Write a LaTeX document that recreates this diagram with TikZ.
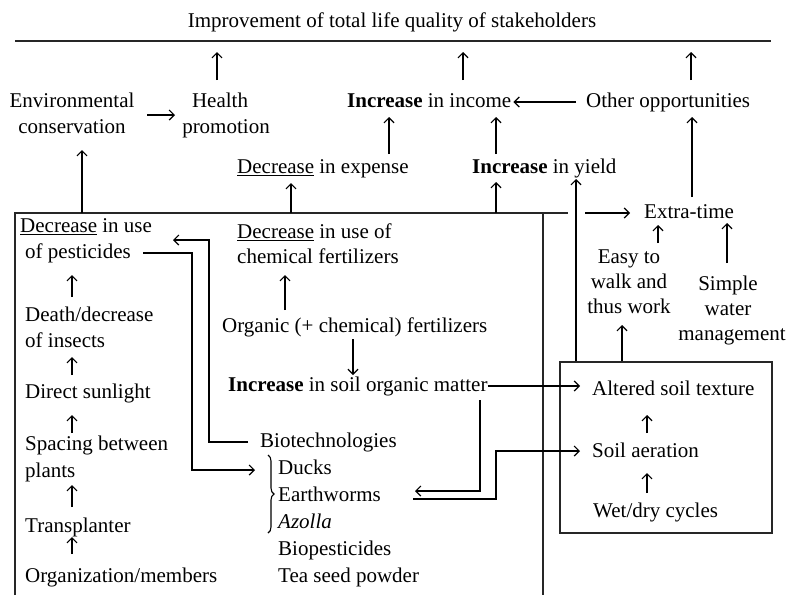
\documentclass[tikz,border=0pt]{standalone}
\usepackage{fontspec}
\setmainfont{Liberation Serif}
\usetikzlibrary{arrows.meta,calc,decorations.pathreplacing}
\begin{document}
\begin{tikzpicture}[x=1pt,y=-1pt,
  lbl/.style={inner sep=0pt, text height=14.7pt, text depth=4.2pt, font=\fontsize{21}{25}\selectfont},
  lw/.style={lbl, anchor=west},
  ln/.style={line width=1.3pt, black!85},
  arr/.style={line width=1.2pt, -{Straight Barb[length=5pt,width=10pt]}},
]
\useasboundingbox (0,0) rectangle (789,595);

% ---- top
\node[lbl] (title) at (392,22) {Improvement of total life quality of stakeholders};
\coordinate (rl) at (15,41);
\coordinate (rr) at (771,41);
\draw[ln] (rl) -- (rr);

\node[lbl] (env1) at (72,102) {Environmental};
\node[lbl] (env2) at (72,128) {conservation};
\node[lbl] (hp1) at (220,102) {Health};
\node[lbl] (hp2) at (226,128) {promotion};
\node[lw] (inc) at (347,102) {\textbf{Increase} in income};
\node[lw] (opp) at (586,102) {Other opportunities};
\node[lw] (dexp) at (237,168) {\underline{Decrease} in expense};
\node[lw] (yld) at (472,168) {\textbf{Increase} in yield};
\node[lw] (xt) at (644,213) {Extra-time};

\node[lbl] (ez1) at (629,258) {Easy to};
\node[lbl] (ez2) at (629,283) {walk and};
\node[lbl] (ez3) at (629,308) {thus work};
\node[lbl] (sm1) at (728,285) {Simple};
\node[lbl] (sm2) at (728,310) {water};
\node[lbl] (sm3) at (732,335) {management};

% ---- left box texts
\node[lw] (pe1) at (20,227) {\underline{Decrease} in use};
\node[lw] (pe2) at (25,253) {of pesticides};
\node[lw] (de1) at (25,316) {Death/decrease};
\node[lw] (de2) at (25,342) {of insects};
\node[lw] (sun) at (25,393) {Direct sunlight};
\node[lw] (sp1) at (25,445) {Spacing between};
\node[lw] (sp2) at (25,472) {plants};
\node[lw] (tra) at (25,527) {Transplanter};
\node[lw] (org) at (25,577) {Organization/members};

\node[lw] (cf1) at (237,233) {\underline{Decrease} in use of};
\node[lw] (cf2) at (237,258) {chemical fertilizers};
\node[lw] (ocf) at (222,327) {Organic (+ chemical) fertilizers};
\node[lw] (som) at (228,386) {\textbf{Increase} in soil organic matter};
\node[lw] (bio) at (260,442) {Biotechnologies};
\node[lw] (duck) at (278,469) {Ducks};
\node[lw] (worm) at (278,496) {Earthworms};
\node[lw] (azo) at (278,523) {\textit{Azolla}};
\node[lw] (bp) at (278,550) {Biopesticides};
\node[lw] (tea) at (278,577) {Tea seed powder};

% ---- right box
\node[draw, line width=1.3pt, black!85, inner sep=0pt, minimum width=212pt, minimum height=171pt] (rbox) at (666,447.5) {};
\node[lw] (alt) at (592,390) {Altered soil texture};
\node[lw] (aer) at (592,452) {Soil aeration};
\node[lw] (wet) at (593,512) {Wet/dry cycles};

% ---- left box frame
\coordinate (lbtl) at (15,213);
\coordinate (lbbl) at (15,595);
\coordinate (lbtr) at (543,213);
\coordinate (lbbr) at (543,595);
\draw[ln] (lbbl) -- (lbtl) -- ($(lbtl)+(553,0)$);
\draw[ln] (lbtr) -- (lbbr);

% brace
\draw[line width=1.1pt, decorate, decoration={brace, amplitude=6pt}] ($(duck.west)+(-10,-14)$) -- ($(azo.west)+(-10,10)$);

% ---- connectors top
\draw[arr] ($(env1.center)+(75,13)$) -- ($(hp1.center)+(-45,13)$);
\draw[arr] ($(hp1.center)+(-3,-22)$) -- ($(hp1.center)+(-3,-50)$);
\draw[arr] ($(inc.west)+(116,-22)$) -- ($(inc.west)+(116,-50)$);
\draw[arr] ($(opp.west)+(105,-22)$) -- ($(opp.west)+(105,-50)$);
\draw[arr] ($(opp.west)+(-10,0)$) -- ($(inc.east)+(2,0)$);
\draw[arr] ($(dexp.west)+(152,-14)$) -- ($(inc.west)+(42,15)$);
\draw[arr] ($(yld.west)+(24,-14)$) -- ($(inc.west)+(149,15)$);
\draw[arr] ($(xt.west)+(48,-16)$) -- ($(opp.west)+(106,15)$);

% from left box top
\draw[arr] ($(lbtl)+(67,0)$) -- ($(env2.center)+(10,22)$);
\draw[arr] ($(lbtl)+(276,0)$) -- ($(dexp.west)+(54,15)$);
\draw[arr] ($(lbtl)+(481,0)$) -- ($(yld.west)+(24,14)$);
\draw[arr] ($(lbtl)+(570,0)$) -- ($(xt.west)+(-14,0)$);

% from right box
\draw[arr] ($(rbox.north)+(-90,0)$) -- ($(yld.west)+(104,11)$);
\draw[arr] ($(rbox.north)+(-44,0)$) -- ($(ez3.center)+(-7,17)$);
\draw[arr] ($(ez1.center)+(29,-15)$) -- ($(xt.west)+(14,12)$);
\draw[arr] ($(sm1.center)+(-1,-22)$) -- ($(xt.west)+(83,10)$);
\draw[arr] ($(aer.west)+(55,-19)$) -- ($(alt.west)+(55,25)$);
\draw[arr] ($(wet.west)+(54,-19)$) -- ($(aer.west)+(55,21)$);

% middle column
\draw[arr] ($(ocf.west)+(63,-17)$) -- ($(cf2.west)+(48,17)$);
\draw[arr] ($(ocf.west)+(131,12)$) -- ($(som.west)+(125,-11)$);
\draw[arr] (som.east) -- ($(alt.west)+(-12,-4)$);
\draw[arr] ($(som.west)+(252,14)$) |- ($(worm.west)+(137,-5)$);
\draw[arr] ($(worm.west)+(135,3)$) -- ++(83,0) |- ($(aer.west)+(-12,-1)$);
\draw[arr] ($(bio.west)+(-12,0)$) -- ++(-39,0) |- ($(pe1.west)+(153,13)$);
\draw[arr] ($(pe2.west)+(118,0)$) -- ++(49,0) |- ($(duck.west)+(-23,1)$);

% left column
\draw[arr] ($(de1.west)+(47,-19)$) -- ($(pe2.west)+(47,22)$);
\draw[arr] ($(sun.west)+(47,-18)$) -- ($(de2.west)+(47,15)$);
\draw[arr] ($(sp1.west)+(47,-12)$) -- ($(sun.west)+(47,22)$);
\draw[arr] ($(tra.west)+(47,-20)$) -- ($(sp2.west)+(47,13)$);
\draw[arr] ($(org.west)+(47,-23)$) -- ($(tra.west)+(47,10)$);
\end{tikzpicture}
\end{document}
